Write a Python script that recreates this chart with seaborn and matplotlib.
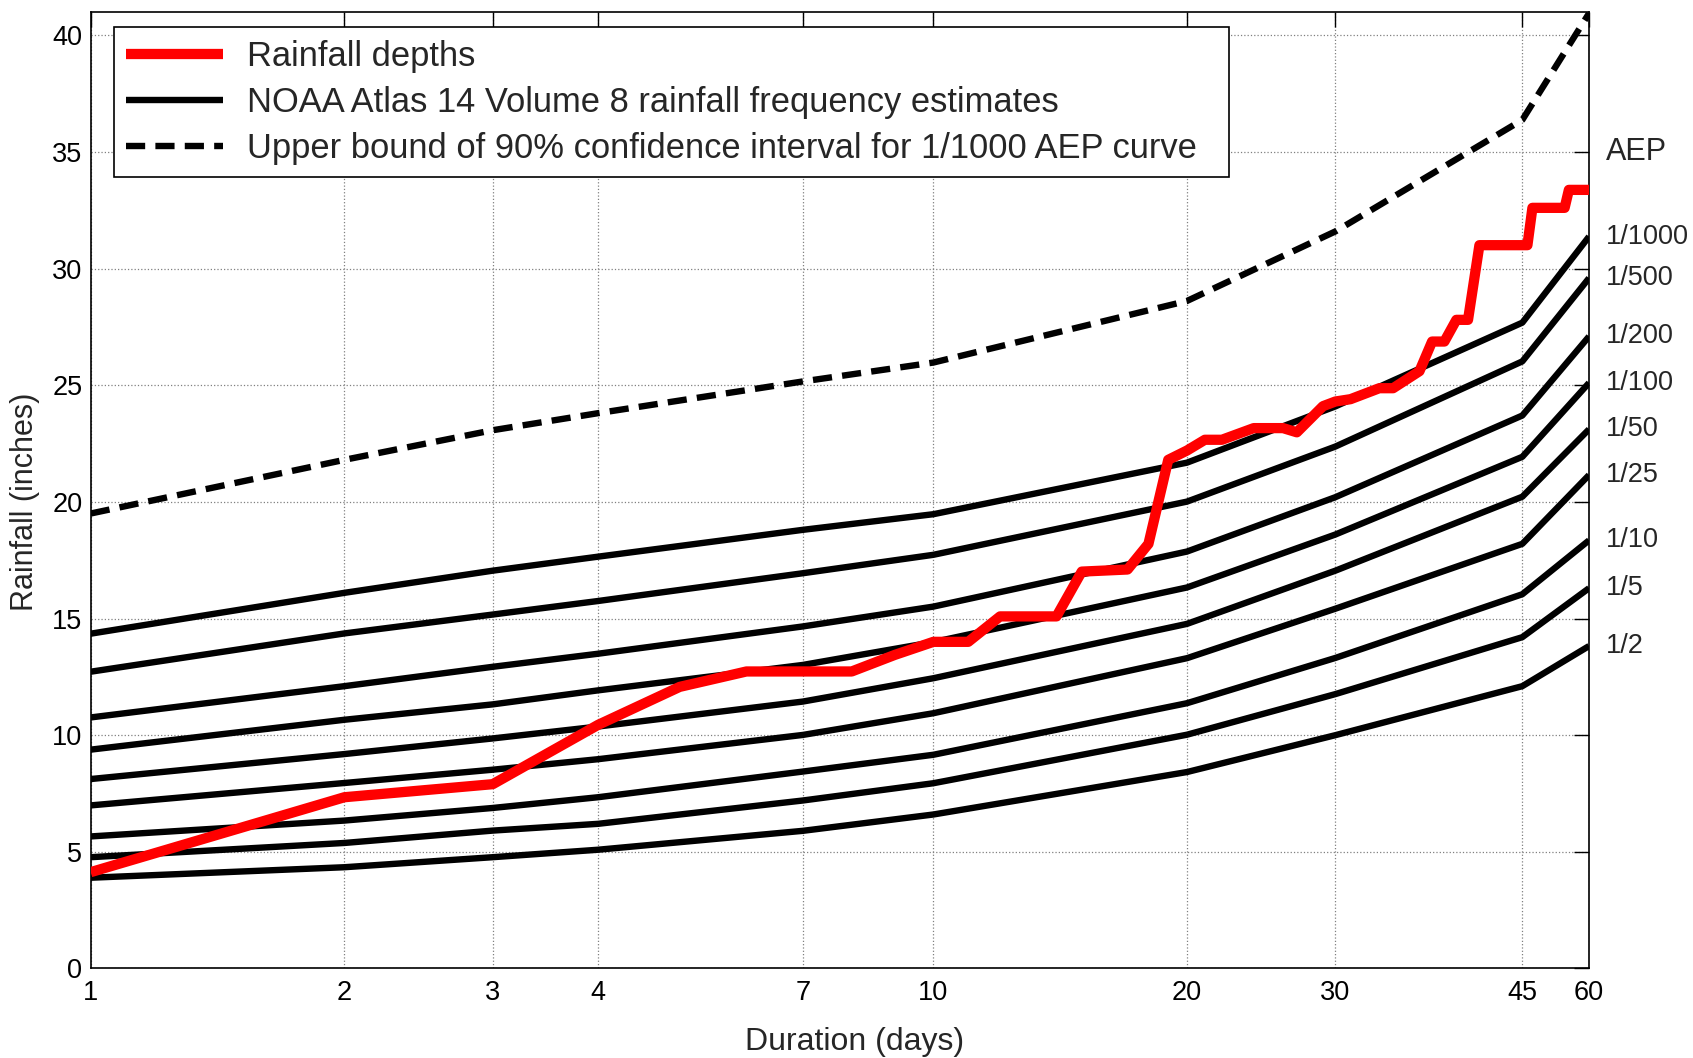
import numpy as np
import pandas as pd
import matplotlib
matplotlib.use("Agg")
import matplotlib.pyplot as plt
import seaborn as sns

# ---------------- data ----------------
durations = [1, 2, 3, 4, 7, 10, 20, 30, 45, 60]
aep_labels = ["1/1000", "1/500", "1/200", "1/100", "1/50", "1/25", "1/10", "1/5", "1/2"]

aep_1000 = [14.35, 16.10, 17.05, 17.65, 18.80, 19.47, 21.68, 24.09, 27.68, 31.37]
aep_500 = [12.72, 14.36, 15.17, 15.75, 16.94, 17.73, 20.01, 22.37, 26.02, 29.59]
aep_200 = [10.76, 12.10, 12.93, 13.49, 14.66, 15.51, 17.87, 20.20, 23.70, 27.09]
aep_100 = [9.38, 10.66, 11.32, 11.92, 13.01, 13.99, 16.33, 18.60, 21.93, 25.10]
aep_50 = [8.12, 9.19, 9.86, 10.37, 11.44, 12.44, 14.77, 17.05, 20.22, 23.11]
aep_25 = [6.99, 7.95, 8.52, 8.97, 10.01, 10.94, 13.30, 15.42, 18.20, 21.15]
aep_10 = [5.66, 6.34, 6.88, 7.34, 8.44, 9.16, 11.37, 13.31, 16.04, 18.35]
aep_5 = [4.77, 5.38, 5.91, 6.20, 7.20, 7.94, 10.02, 11.76, 14.20, 16.30]
aep_2 = [3.89, 4.34, 4.77, 5.09, 5.90, 6.60, 8.42, 10.00, 12.10, 13.82]
aep_values = [aep_1000, aep_500, aep_200, aep_100, aep_50, aep_25, aep_10, aep_5, aep_2]

upper_bound_1000 = [19.50, 21.80, 23.07, 23.80, 25.16, 25.97, 28.61, 31.59, 36.37, 40.94]

rain_days = [1, 2, 3, 4, 5, 6, 8, 9, 10, 11, 12, 14, 15, 17, 18, 19, 20, 21, 22,
             24, 26, 27, 29, 30, 31, 33, 34, 36, 37, 38, 39, 40, 41, 46, 47, 54, 55, 60]
rain_depths = [4.13, 7.34, 7.90, 10.44, 12.07, 12.73, 12.73, 13.44, 14.00, 14.00,
               15.09, 15.09, 17.01, 17.10, 18.20, 21.80, 22.20, 22.66, 22.66,
               23.16, 23.16, 22.98, 24.10, 24.30, 24.40, 24.87, 24.87, 25.60,
               26.87, 26.87, 27.80, 27.80, 31.00, 31.00, 32.60, 32.60, 33.37, 33.37]

x_ticks = [1, 2, 3, 4, 7, 10, 20, 30, 45, 60]
y_ticks = [0, 5, 10, 15, 20, 25, 30, 35, 40]

legend_labels = ["Rainfall depths",
                 "NOAA Atlas 14 Volume 8 rainfall frequency estimates",
                 "Upper bound of 90% confidence interval for 1/1000 AEP curve"]

# ---------------- axis scale (log, with 30-45-60 segment as in the original) ----------------
_L = np.log10
_src = _L(np.array([30.0, 45.0, 60.0]))
_dst = _L(np.array([30.0, 50.0, 60.0]))


def _fwd(x):
    lx = _L(np.maximum(np.asarray(x, dtype=float), 1e-9))
    out = np.array(lx, dtype=float, copy=True)
    m1 = (lx > _src[0]) & (lx <= _src[1])
    out[m1] = _dst[0] + (lx[m1] - _src[0]) * (_dst[1] - _dst[0]) / (_src[1] - _src[0])
    m2 = lx > _src[1]
    out[m2] = _dst[1] + (lx[m2] - _src[1]) * (_dst[2] - _dst[1]) / (_src[2] - _src[1])
    return out


def _inv(p):
    p = np.asarray(p, dtype=float)
    out = np.array(p, dtype=float, copy=True)
    m1 = (p > _dst[0]) & (p <= _dst[1])
    out[m1] = _src[0] + (p[m1] - _dst[0]) * (_src[1] - _src[0]) / (_dst[1] - _dst[0])
    m2 = p > _dst[1]
    out[m2] = _src[1] + (p[m2] - _dst[1]) * (_src[2] - _src[1]) / (_dst[2] - _dst[1])
    return 10.0 ** out


# ---------------- plotting ----------------
sns.set_theme(style="white")
plt.rcParams["font.family"] = ["Liberation Sans", "DejaVu Sans"]
plt.rcParams["lines.solid_capstyle"] = "butt"
plt.rcParams["lines.dash_capstyle"] = "butt"

fig = plt.figure(figsize=(16.93, 10.58), dpi=100)
ax = fig.add_axes([0.0536, 0.0846, 0.8850, 0.9042])
ax.set_xscale("function", functions=(_fwd, _inv))

aep_df = pd.DataFrame({
    "Duration": np.tile(durations, len(aep_labels)),
    "Rainfall": np.concatenate(aep_values),
    "AEP": np.repeat(aep_labels, len(durations)),
})
sns.lineplot(data=aep_df, x="Duration", y="Rainfall", units="AEP", estimator=None,
             color="black", lw=4.6, ax=ax, legend=False, sort=False, zorder=3)
black_line = ax.lines[0]

sns.lineplot(x=durations, y=upper_bound_1000, color="black", lw=4.6, ax=ax,
             legend=False, sort=False, zorder=3)
dash_line = ax.lines[-1]
dash_line.set_dashes((3.0, 1.6))

sns.lineplot(x=rain_days, y=rain_depths, color="#ff0000", lw=7.4, ax=ax,
             legend=False, sort=False, zorder=4)
red_line = ax.lines[-1]

ax.set_xlim(1, 60)
ax.set_ylim(0, 41)
ax.set_xticks(x_ticks)
ax.set_xticklabels([str(t) for t in x_ticks])
ax.set_yticks(y_ticks)
ax.set_yticklabels([str(t) for t in y_ticks])
ax.minorticks_off()

ax.grid(True, color="0.5", linestyle=":", linewidth=0.9)
ax.set_axisbelow(True)
for s in ax.spines.values():
    s.set_color("black")
    s.set_linewidth(1.2)
ax.tick_params(axis="both", which="major", direction="in", length=11, width=1.0,
               top=True, right=True, labelsize=19.5, colors="black", pad=6)
ax.tick_params(axis="x", pad=8)

ax.set_xlabel("Duration (days)", fontsize=23)
ax.set_ylabel("Rainfall (inches)", fontsize=22)
ax.xaxis.set_label_coords(0.510, -0.061)
ax.yaxis.set_label_coords(-0.034, 0.488)

# right-hand AEP labels
ax.annotate("AEP", xy=(1, 35), xycoords=("axes fraction", "data"),
            xytext=(12, 0), textcoords="offset points", va="center", ha="left",
            fontsize=22, annotation_clip=False)
for lab, vals in zip(aep_labels, aep_values):
    ax.annotate(lab, xy=(1, vals[-1]), xycoords=("axes fraction", "data"),
                xytext=(12, 0), textcoords="offset points", va="center", ha="left",
                fontsize=19.5, annotation_clip=False)

leg = ax.legend([red_line, black_line, dash_line], legend_labels,
                loc="upper left", bbox_to_anchor=(0.0152, 0.0, 0.7444, 0.984),
                mode="expand", borderaxespad=0,
                fontsize=24.85, frameon=True, fancybox=False, framealpha=1,
                edgecolor="black", handlelength=2.8, handletextpad=0.7,
                labelspacing=0.38, borderpad=0.36)
leg.get_frame().set_linewidth(1.2)

fig.savefig("out.png", dpi=100, facecolor="white")
